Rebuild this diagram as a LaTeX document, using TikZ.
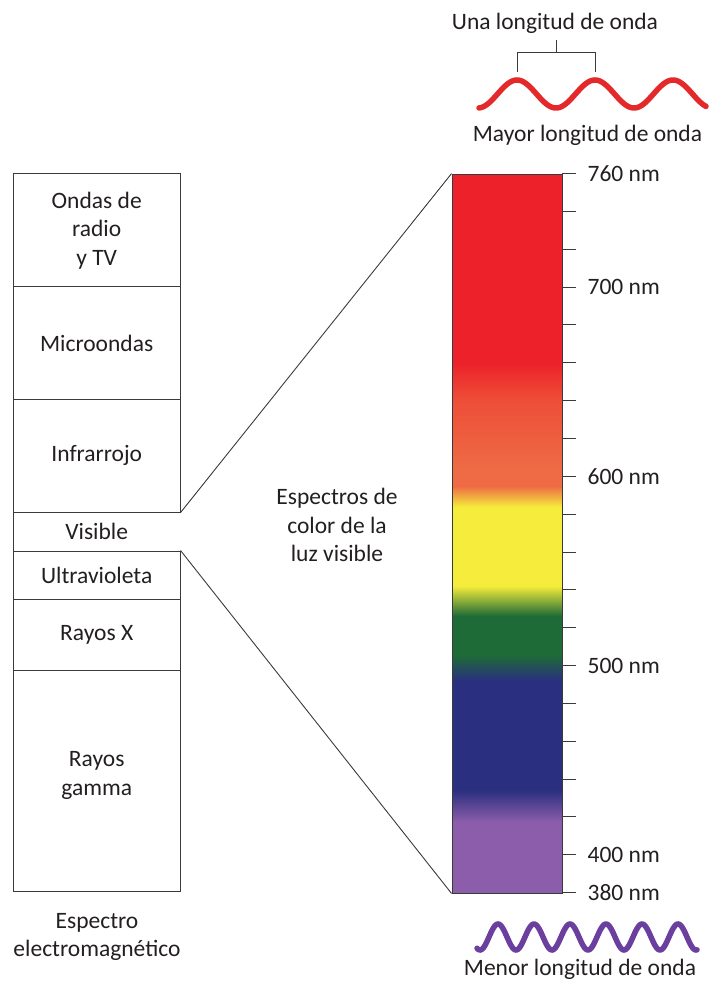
\documentclass[tikz,border=0pt]{standalone}
\usepackage{fontspec}
\setmainfont{Carlito}
\usetikzlibrary{calc}
\definecolor{txt}{HTML}{231F20}
\definecolor{linec}{HTML}{3A3A3A}
\definecolor{cRed}{HTML}{EC2129}
\definecolor{cRedOr}{HTML}{EE4E38}
\definecolor{cOrange}{HTML}{EE6B45}
\definecolor{cYellow}{HTML}{F5EC3B}
\definecolor{cGreen}{HTML}{1E6B37}
\definecolor{cBlue}{HTML}{2B2F7F}
\definecolor{cPurple}{HTML}{8B5DAA}
\definecolor{wRed}{HTML}{E4292A}
\definecolor{wPurple}{HTML}{6A3F9E}
\newcommand{\lblfont}{\fontsize{23.5}{28.5}\selectfont}
\tikzset{
  box/.style={draw=linec, line width=1pt, minimum width=166.7pt, inner sep=0pt,
    align=center, font=\lblfont, text=txt},
  lbl/.style={inner sep=0pt, align=center, font=\lblfont, text=txt},
  thinline/.style={draw=linec, line width=0.9pt},
  specbox/.style={draw=linec, line width=0.9pt, minimum width=110pt, minimum height=719pt, inner sep=0pt},
  wave/.style={line width=5.5pt, line cap=round}
}
\begin{document}
\begin{tikzpicture}[x=1pt,y=-1pt]
\useasboundingbox (0,0) rectangle (717,981);

% left column
\node[box, minimum height=112.7pt] (radio) at (96.7,230.3) {Ondas de\\radio\\y TV};
\node[box, minimum height=112.6pt] (micro) at (96.7,343) {Microondas};
\node[box, minimum height=112.7pt] (infra) at (96.7,455.7) {Infrarrojo};
\node[lbl, minimum width=166.7pt, minimum height=39pt] (visible) at (96.7,531.5) {Visible};
\draw[thinline] (visible.north west) -- (visible.south west);
\node[box, minimum height=48pt] (uv) at (96.7,575) {Ultravioleta};
\node[box, minimum height=71pt] (xray) at (96.7,634.5) {Rayos X};
\node[box, minimum height=221pt] (gamma) at (96.7,780.5) {};
\node[lbl] (gammatxt) at ([yshift=5pt]gamma.center) {Rayos\\gamma};
\node[lbl] (em) at (97,937) {Espectro\\electromagnético};

% spectrum
\fill[cRed] (452,174) rectangle (562,362);
\shade[top color=cRed, bottom color=cRedOr] (452,362) rectangle (562,400);
\shade[top color=cRedOr, bottom color=cOrange] (452,400) rectangle (562,470);
\fill[cOrange] (452,470) rectangle (562,486);
\shade[top color=cOrange, bottom color=cYellow] (452,486) rectangle (562,507);
\fill[cYellow] (452,507) rectangle (562,586);
\shade[top color=cYellow, bottom color=cGreen] (452,586) rectangle (562,616);
\fill[cGreen] (452,616) rectangle (562,655);
\shade[top color=cGreen, bottom color=cBlue] (452,655) rectangle (562,681);
\fill[cBlue] (452,681) rectangle (562,790);
\shade[top color=cBlue, bottom color=cPurple] (452,790) rectangle (562,822);
\fill[cPurple] (452,822) rectangle (562,893);
\node[specbox] (spec) at (507,533.5) {};

% ticks
\foreach \i in {0,...,19}{
  \draw[thinline] ($(spec.north east)+(0,\i*37.842)$) -- ++(14,0);
}
\node[lbl, anchor=west] (n760) at ($(spec.north east)+(25,0)$) {760 nm};
\node[lbl, anchor=west] (n700) at ($(spec.north east)+(25,3*37.842)$) {700 nm};
\node[lbl, anchor=west] (n600) at ($(spec.north east)+(25,8*37.842)$) {600 nm};
\node[lbl, anchor=west] (n500) at ($(spec.north east)+(25,13*37.842)$) {500 nm};
\node[lbl, anchor=west] (n400) at ($(spec.north east)+(25,18*37.842)$) {400 nm};
\node[lbl, anchor=west] (n380) at ($(spec.north east)+(25,19*37.842)$) {380 nm};

% connectors
\draw[thinline] (infra.south east) -- (spec.north west);
\draw[thinline] (uv.north east) -- (spec.south west);

\node[lbl] (esp) at (337,525) {Espectros de\\color de la\\luz visible};

% top wave
\node[lbl, anchor=base] (una) at (555,30) {Una longitud de onda};
\coordinate (bl) at (517,72);
\coordinate (br) at (595,72);
\coordinate (bm) at (556,40);
\draw[thinline] (bl) -- (517,52) -- (595,52) -- (br);
\draw[thinline] (556,52) -- (bm);
\draw[wave, wRed] plot[domain=479:706, samples=150, smooth] (\x, {94+14*cos((\x-478)/78*360)});
\node[lbl, anchor=base] (mayor) at (587.5,142) {Mayor longitud de onda};

% bottom wave
\draw[wave, wPurple] plot[domain=477:697, samples=200, smooth] (\x, {937+13*cos((\x-480)/36*360)});
\node[lbl, anchor=base] (menor) at (580,975) {Menor longitud de onda};
\end{tikzpicture}
\end{document}
